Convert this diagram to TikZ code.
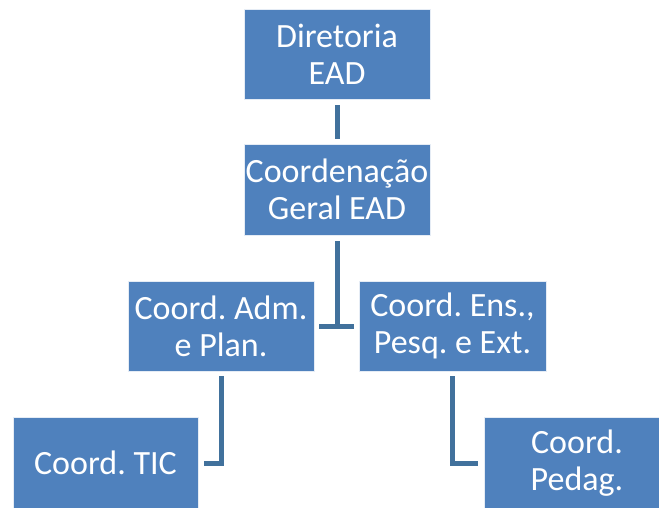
\documentclass[tikz,border=0pt]{standalone}
\usepackage{fontspec}
\setmainfont{Carlito}
\frenchspacing
\definecolor{boxblue}{HTML}{4F81BD}
\definecolor{lineblue}{HTML}{41719C}
\tikzset{
  orgbox/.style={rectangle, fill=boxblue, draw=white!85!boxblue, line width=0.8pt,
    minimum width=186pt, minimum height=90pt, inner sep=0pt,
    text=white, align=center, font=\fontsize{34}{37}\selectfont},
  conn/.style={draw=lineblue, line width=5pt}
}
\begin{document}
\begin{tikzpicture}[x=1pt,y=1pt]
\clip (0,0) rectangle (659,-507);
\fill[white] (0,0) rectangle (659,-507);
\node[orgbox] (dir) at (337,-54) {Diretoria\\EAD};
\node[orgbox, minimum height=91pt] (cge) at (337,-189.5) {Coordenação\\Geral EAD};
\node[orgbox] (adm) at (221,-326) {Coord. Adm.\\e Plan.};
\node[orgbox, minimum width=187pt] (ens) at (452.5,-326) {Coord. Ens.,\\Pesq. e Ext.};
\node[orgbox, minimum width=185pt, minimum height=92pt] (tic) at (105.5,-463) {Coord. TIC};
\node[orgbox, minimum height=92pt] (ped) at (577,-463) {Coord.\\Pedag.};
\coordinate (tj) at (337,-326);
\draw[conn] ([yshift=-6pt]dir.south) -- ([yshift=5pt]cge.north);
\draw[conn] ([yshift=-6pt]cge.south) -- (tj);
\draw[conn] ([xshift=-18pt]tj) -- ([xshift=17pt]tj);
\draw[conn] ([yshift=-5pt]adm.south) |- ([xshift=6pt]tic.east);
\draw[conn] ([yshift=-5pt]ens.south) |- ([xshift=-6pt]ped.west);
\end{tikzpicture}
\end{document}
